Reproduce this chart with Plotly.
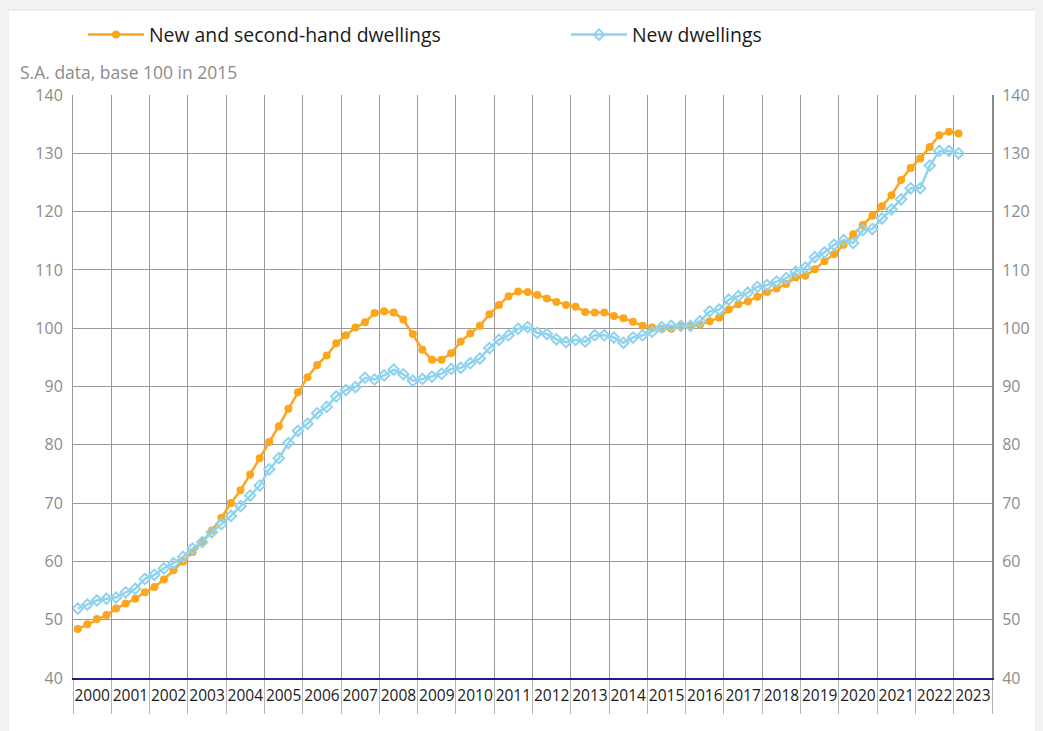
import plotly.graph_objects as go

years = [str(y) for y in range(2000, 2024)]

all_dwellings = [
    48.4, 49.2, 50.1, 50.8,
    51.9, 52.8, 53.6, 54.7,
    55.6, 56.9, 58.5, 60.0,
    61.6, 63.4, 65.3, 67.5,
    70.0, 72.2, 74.9, 77.7,
    80.5, 83.2, 86.2, 89.0,
    91.6, 93.7, 95.3, 97.4,
    98.8, 100.1, 101.0, 102.6,
    102.9, 102.7, 101.5, 99.0,
    96.3, 94.6, 94.6, 95.7,
    97.7, 99.1, 100.4, 102.4,
    104.0, 105.5, 106.3, 106.2,
    105.7, 105.1, 104.5, 104.0,
    103.7, 102.8, 102.7, 102.7,
    102.1, 101.7, 101.1, 100.4,
    100.1, 99.9, 99.9, 100.3,
    100.4, 100.6, 101.2, 101.8,
    103.2, 104.1, 104.6, 105.4,
    106.2, 106.8, 107.6, 108.7,
    109.0, 110.1, 111.5, 112.7,
    114.3, 116.1, 117.7, 119.3,
    120.9, 122.8, 125.4, 127.5,
    129.1, 131.1, 133.1, 133.7,
    133.4,
]

new_dwellings = [
    51.9, 52.6, 53.3, 53.6,
    53.8, 54.7, 55.3, 57.0,
    57.7, 58.8, 59.7, 60.8,
    62.2, 63.3, 65.0, 66.4,
    67.8, 69.5, 71.3, 73.0,
    75.8, 77.7, 80.3, 82.4,
    83.6, 85.4, 86.5, 88.3,
    89.4, 89.9, 91.5, 91.2,
    91.9, 92.9, 92.1, 91.0,
    91.3, 91.7, 92.2, 93.0,
    93.2, 94.0, 94.8, 96.6,
    98.0, 98.8, 99.9, 100.2,
    99.2, 99.0, 98.1, 97.6,
    98.0, 97.7, 98.8, 98.8,
    98.4, 97.5, 98.4, 98.8,
    99.4, 100.2, 100.4, 100.4,
    100.4, 101.2, 102.9, 103.2,
    104.9, 105.5, 106.1, 107.1,
    107.4, 108.0, 108.6, 109.7,
    110.4, 112.2, 113.0, 114.3,
    115.1, 114.6, 116.8, 117.0,
    118.8, 120.4, 122.1, 124.0,
    124.0, 127.9, 130.4, 130.4,
    130.0,
]

y_ticks = list(range(40, 141, 10))

quarters = list(range(len(all_dwellings)))  # quarterly index from 2000Q1
n_q = len(years) * 4
year_centers = [i * 4 + 1.5 for i in range(len(years))]
year_bounds = [i * 4 - 0.5 for i in range(len(years) + 1)]

ORANGE = "#FBA61C"
BLUE = "#8FD3EE"
FONT = "Open Sans"

fig = go.Figure()
fig.add_trace(go.Scatter(
    x=quarters, y=all_dwellings, mode="lines+markers",
    name="New and second-hand dwellings", legend="legend",
    line=dict(color=ORANGE, width=2.5),
    marker=dict(symbol="circle", size=8, color=ORANGE),
))
fig.add_trace(go.Scatter(
    x=quarters, y=new_dwellings, mode="lines+markers",
    name="New dwellings", legend="legend2",
    line=dict(color=BLUE, width=2.5),
    marker=dict(symbol="diamond-open", size=8, color=BLUE, line=dict(width=2, color=BLUE)),
))

# page has an 8px body margin: figure origin sits at page (8, 8)
OFF = 8
W, H = 1043 - OFF, 731 - OFF
L, T = 73 - OFF, 95 - OFF
R = W - (992 - OFF)
B = H - (678 - OFF)
pw, ph = W - L - R, H - T - B

def px_x(p):
    return (p - OFF - L) / pw

def px_y(p):
    return (H - B - (p - OFF)) / ph

legend_common = dict(
    orientation="h", yanchor="middle", xanchor="left",
    font=dict(size=19.4, color="#1a1a1a", family=FONT),
    itemwidth=56, bgcolor="rgba(0,0,0,0)",
)

fig.update_layout(
    width=W, height=H,
    margin=dict(l=L, r=R, t=T, b=B, autoexpand=False),
    paper_bgcolor="#f2f2f2",
    plot_bgcolor="rgba(0,0,0,0)",
    font=dict(family=FONT, color="#1a1a1a"),
    showlegend=True,
    legend=dict(x=px_x(83), y=px_y(35), **legend_common),
    legend2=dict(x=px_x(566), y=px_y(35), **legend_common),
    xaxis=dict(
        range=[-0.5, n_q - 0.5], automargin=False,
        tickmode="array", tickvals=year_centers, ticktext=years,
        showgrid=False, zeroline=False,
        ticks="outside", ticklen=2, tickcolor="rgba(0,0,0,0)",
        tickfont=dict(size=15.5, color="#1a1a1a", family=FONT),
        showline=True, linecolor="#1c1c8a", linewidth=2,
        minor=dict(
            tickmode="array", tickvals=year_bounds,
            showgrid=True, gridcolor="#9a9a9a", gridwidth=1,
            ticks="outside", ticklen=34, tickcolor="#b5b5b5", tickwidth=1,
        ),
    ),
    yaxis=dict(
        range=[40, 140], tickmode="array", tickvals=y_ticks, automargin=False,
        showgrid=True, gridcolor="#9a9a9a", gridwidth=1, zeroline=False,
        showline=True, linecolor="#9a9a9a", linewidth=1,
        ticks="outside", ticklen=6, tickcolor="rgba(0,0,0,0)",
        tickfont=dict(size=16, color="#8c8c8c", family=FONT),
    ),
    yaxis2=dict(
        range=[40, 140], tickmode="array", tickvals=y_ticks, automargin=False,
        overlaying="y", side="right", matches="y",
        showgrid=False, zeroline=False,
        showline=True, linecolor="#8a8a8a", linewidth=2,
        ticks="outside", ticklen=5, tickcolor="rgba(0,0,0,0)",
        tickfont=dict(size=16, color="#8c8c8c", family=FONT),
    ),
    shapes=[dict(
        type="rect", xref="paper", yref="paper",
        x0=px_x(8), x1=px_x(1043 + 20), y0=px_y(731 + 20), y1=px_y(10),
        fillcolor="white", line=dict(color="#e3e3e3", width=1), layer="below",
    )],
    annotations=[dict(
        text="S.A. data, base 100 in 2015", xref="paper", yref="paper",
        x=px_x(18), y=px_y(72), xanchor="left", yanchor="middle",
        showarrow=False, font=dict(size=17.5, color="#8c8c8c", family=FONT),
    )],
)

# invisible trace to anchor the right axis
fig.add_trace(go.Scatter(x=[0], y=[40], yaxis="y2", mode="markers",
                         marker=dict(opacity=0), showlegend=False, hoverinfo="skip"))

fig.write_html("out.html", post_script="document.body.style.background='#f2f2f2';")
